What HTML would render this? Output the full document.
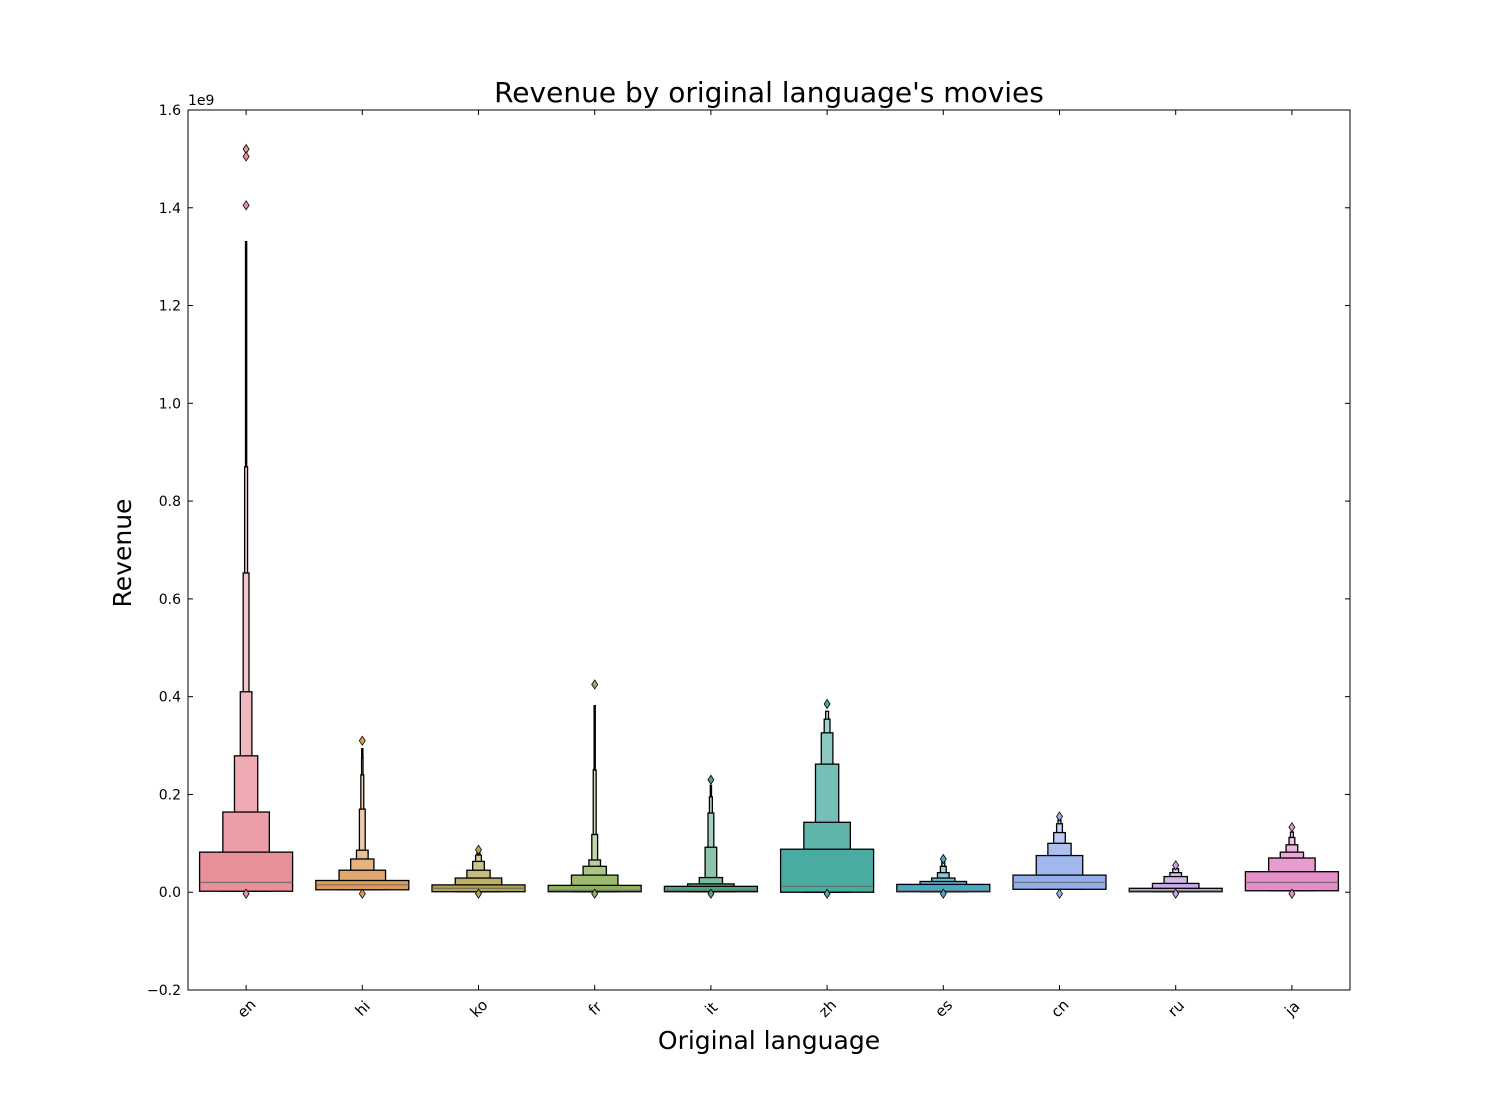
<!DOCTYPE html>
<html><head><meta charset="utf-8"><style>
body{margin:0;background:#fff}
svg{display:block;font-family:"DejaVu Sans","Liberation Sans",sans-serif}
</style></head><body>
<svg id="chart" width="1500" height="1100" viewBox="0 0 1500 1100">
<rect width="1500" height="1100" fill="#fff"/>
<g id="plot"></g>
<rect x="188" y="110" width="1162" height="880" fill="none" stroke="#000" stroke-width="1"/>
<text x="769" y="102" text-anchor="middle" font-size="28">Revenue by original language's movies</text>
<text x="769" y="1049" text-anchor="middle" font-size="25">Original language</text>
<text transform="translate(131,553) rotate(-90)" text-anchor="middle" font-size="25">Revenue</text>
<text x="188" y="105" font-size="14">1e9</text>
</svg>
<script>
const categories=["en","hi","ko","fr","it","zh","es","cn","ru","ja"];
const baseColors=["#e8919b","#dd9b5b","#b3a550","#8fb25a","#4ba57d","#4aaba0","#47a9c4","#93aeea","#c4a2e6","#e68ec8"];
const levelUppers=[
[0.082,0.164,0.279,0.41,0.653,0.87],
[0.024,0.045,0.068,0.086,0.17,0.24,0.275],
[0.015,0.029,0.045,0.063,0.076,0.082],
[0.014,0.035,0.053,0.066,0.118,0.25],
[0.012,0.017,0.03,0.092,0.162,0.195],
[0.088,0.143,0.262,0.326,0.354,0.37],
[0.016,0.022,0.029,0.04,0.053,0.062],
[0.035,0.075,0.1,0.122,0.14,0.148],
[0.008,0.018,0.032,0.04,0.048],
[0.042,0.07,0.082,0.097,0.112,0.123]];
const levelLower=[0.002,0.005,0.001,0.001,0.001,0.0,0.001,0.006,0.001,0.003];
const medians=[0.02,0.015,0.008,0.004,0.004,0.012,0.003,0.02,0.003,0.02];
const whiskerTops=[1.332,0.295,0.082,0.383,0.22,0.37,0.062,0.148,0.048,0.123];
const outliers=[[1.52,1.505,1.405],[0.31],[0.087],[0.425],[0.23],[0.385],[0.068],[0.155],[0.055],[0.133]];
const yTicks=[-0.2,0,0.2,0.4,0.6,0.8,1.0,1.2,1.4,1.6];
const yTickLabels=["\u22120.2","0.0","0.2","0.4","0.6","0.8","1.0","1.2","1.4","1.6"];

const L=188,R=1350,T=110,B=990,ymin=-0.2,ymax=1.6;
const y=v=>B-(v-ymin)/(ymax-ymin)*(B-T);
const step=(R-L)/categories.length;
const x=i=>L+step*(i+0.5);
const NS="http://www.w3.org/2000/svg";
const g=document.getElementById('plot');
function mk(t,a){const e=document.createElementNS(NS,t);for(const k in a)e.setAttribute(k,a[k]);g.appendChild(e);return e;}
function mix(hex,f){const n=parseInt(hex.slice(1),16);let r=n>>16,gg=(n>>8)&255,b=n&255;
r=Math.round(r+(255-r)*f);gg=Math.round(gg+(255-gg)*f);b=Math.round(b+(255-b)*f);return `rgb(${r},${gg},${b})`;}

yTicks.forEach((v,i)=>{
 const t1=mk('line',{x1:L,x2:L+5,y1:y(v),y2:y(v),stroke:'#000'});
 
 const t2=mk('line',{x1:R-5,x2:R,y1:y(v),y2:y(v),stroke:'#000'});
 
 const tx=mk('text',{x:L-7,y:y(v)+5,'text-anchor':'end','font-size':14});
 tx.textContent=yTickLabels[i];
 
});

categories.forEach((c,i)=>{
 const cx=x(i);
 const t1=mk('line',{x1:cx,x2:cx,y1:B,y2:B-5,stroke:'#000'});
 
 const t2=mk('line',{x1:cx,x2:cx,y1:T,y2:T+5,stroke:'#000'});
 
 const tl=mk('text',{transform:`translate(${cx+4},${B+22}) rotate(-45)`,'text-anchor':'middle','font-size':15});
 tl.textContent=c;
 
 const ups=levelUppers[i];
 const lastTop=ups[ups.length-1];
 if(whiskerTops[i]>lastTop){
  const w=mk('line',{x1:cx,x2:cx,y1:y(lastTop),y2:y(whiskerTops[i]),stroke:'#000','stroke-width':2.5});
  
 }
 for(let k=ups.length-1;k>=0;k--){
  const wd=93/Math.pow(2,k);
  const r=mk('rect',{x:cx-wd/2,y:y(ups[k]),width:wd,height:y(levelLower[i])-y(ups[k]),fill:mix(baseColors[i],Math.min(0.12*k,0.7)),stroke:'#000','stroke-width':1.3});
  
 }
 const m=mk('line',{x1:cx-46.5,x2:cx+46.5,y1:y(medians[i]),y2:y(medians[i]),stroke:'#666','stroke-width':1.3,opacity:0.8});
 
 const o=[...outliers[i],-0.003];
 o.forEach(v=>{
  const py=y(v);
  const d=mk('path',{d:`M${cx},${py-4.5}L${cx+3},${py}L${cx},${py+4.5}L${cx-3},${py}Z`,fill:baseColors[i],stroke:'#000','stroke-width':0.8});
  
 });
});
</script>
</body></html>
